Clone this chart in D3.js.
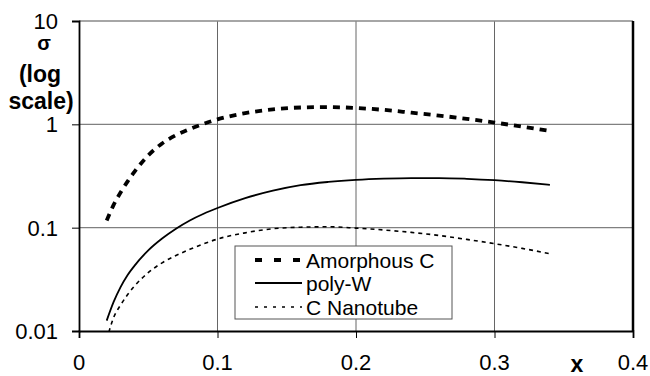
<!DOCTYPE html>
<html><head><meta charset="utf-8">
<script src="https://cdn.jsdelivr.net/npm/d3@7/dist/d3.min.js"></script>
<style>body{margin:0;background:#fff}svg{display:block}text{font-family:"Liberation Sans",Arial,sans-serif;fill:#000}</style>
</head><body><svg id="c" width="650" height="376"></svg>
<script>
const xValues = [0.02,0.025,0.03,0.035,0.04,0.05,0.06,0.07,0.08,0.09,0.10,0.12,0.14,0.16,0.18,0.20,0.22,0.24,0.26,0.28,0.30,0.32,0.34];
const amorphousC = [0.1175,0.166,0.219,0.279,0.347,0.501,0.653,0.785,0.902,1.012,1.117,1.282,1.396,1.455,1.469,1.439,1.38,1.297,1.216,1.13,1.04,0.95,0.861];
const polyW = [0.0126,0.0191,0.0266,0.0347,0.0427,0.0603,0.0785,0.0977,0.1175,0.1365,0.155,0.193,0.228,0.258,0.277,0.290,0.298,0.302,0.302,0.297,0.288,0.275,0.26];
const cNanotube = [0.0082,0.0135,0.0178,0.0224,0.0272,0.0367,0.0457,0.0537,0.0617,0.0697,0.0776,0.0891,0.0977,0.101,0.102,0.099,0.095,0.090,0.084,0.077,0.070,0.063,0.056];
const seriesNames = ["Amorphous C","poly-W","C Nanotube"];
const xTicks = [0,0.1,0.2,0.3,0.4];
const xTickLabels = ["0","0.1","0.2","0.3","0.4"];
const yTicks = [0.01,0.1,1,10];
const yTickLabels = ["0.01","0.1","1","10"];

const svg = d3.select("#c");
const L=79,R=633,T=21,B=331;
const x = d3.scaleLinear().domain([0,0.4]).range([L,R]);
const y = d3.scaleLog().domain([0.01,10]).range([B,T]);

svg.append("defs").append("clipPath").attr("id","plot")
  .append("rect").attr("x",L).attr("y",T).attr("width",R-L).attr("height",B-T);

// gridlines
svg.append("g").selectAll("line").data([0.1,1]).join("line")
  .attr("x1",L).attr("x2",R).attr("y1",d=>y(d)).attr("y2",d=>y(d))
  .attr("stroke","#808080").attr("stroke-width",1.2);
svg.append("g").selectAll("line").data([0.1,0.2,0.3]).join("line")
  .attr("x1",d=>x(d)).attr("x2",d=>x(d)).attr("y1",T).attr("y2",B)
  .attr("stroke","#666").attr("stroke-width",1);
svg.append("line").attr("x1",L).attr("x2",R).attr("y1",T).attr("y2",T).attr("stroke","#888").attr("stroke-width",1.5);
svg.append("line").attr("x1",R).attr("x2",R).attr("y1",T).attr("y2",B).attr("stroke","#000").attr("stroke-width",2.5);

// axes
const xAxis = d3.axisBottom(x).tickValues(xTicks).tickSize(7).tickFormat("");
const gx = svg.append("g").attr("transform",`translate(0,${B})`).call(xAxis);
gx.select(".domain").attr("stroke","#000").attr("stroke-width",1.8);
gx.selectAll(".tick line").attr("stroke","#000").attr("stroke-width",1);
const yAxis = d3.axisLeft(y).tickValues(yTicks).tickSize(7).tickFormat("");
const gy = svg.append("g").attr("transform",`translate(${L},0)`).call(yAxis);
gy.select(".domain").attr("stroke","#000").attr("stroke-width",1.8);
gy.selectAll(".tick line").attr("stroke","#000").attr("stroke-width",1);

// tick labels
svg.append("g").selectAll("text").data(xTicks).join("text")
  .attr("x",d=>x(d)).attr("y",370).attr("text-anchor","middle")
  .attr("font-size",22).text((d,i)=>xTickLabels[i]);
svg.append("g").selectAll("text").data(yTicks).join("text")
  .attr("x",58).attr("y",d=>y(d)).attr("dy","0.36em").attr("text-anchor","end")
  .attr("font-size",22).text((d,i)=>yTickLabels[i]);

// axis titles
const yt = svg.append("g").attr("font-weight","bold").attr("text-anchor","middle");
yt.append("text").attr("x",44).attr("y",50).attr("font-size",20).text("σ");
yt.append("text").attr("x",40).attr("y",82).attr("font-size",23).text("(log");
yt.append("text").attr("x",41).attr("y",109).attr("font-size",23).text("scale)");
svg.append("text").attr("x",577).attr("y",372).attr("text-anchor","middle")
  .attr("font-weight","bold").attr("font-size",23).text("x");

// lines
const styles = [
  {data:amorphousC, w:3.8, dash:"7,6", legendDash:"7,12"},
  {data:polyW, w:1.8, dash:null, legendDash:null},
  {data:cNanotube, w:1.6, dash:"4,4", legendDash:"3,6"}
];
const line = d3.line().x(d=>x(d[0])).y(d=>y(d[1])).curve(d3.curveMonotoneX);
const lines = svg.append("g").attr("clip-path","url(#plot)");
styles.forEach(s=>{
  lines.append("path").datum(xValues.map((v,i)=>[v,s.data[i]]))
    .attr("d",line).attr("fill","none").attr("stroke","#000")
    .attr("stroke-width",s.w).attr("stroke-dasharray",s.dash);
});

// legend
const lg = svg.append("g");
lg.append("rect").attr("x",235).attr("y",246).attr("width",217).attr("height",73)
  .attr("fill","#fff").attr("stroke","#555").attr("stroke-width",1);
const ly = [260,283,307];
seriesNames.forEach((n,i)=>{
  lg.append("line").attr("x1",255).attr("x2",302).attr("y1",ly[i]).attr("y2",ly[i])
    .attr("stroke","#000").attr("stroke-width",styles[i].w).attr("stroke-dasharray",styles[i].legendDash);
  lg.append("text").attr("x",306).attr("y",ly[i]).attr("dy","0.36em").attr("font-size",21).text(n);
});
</script></body></html>
